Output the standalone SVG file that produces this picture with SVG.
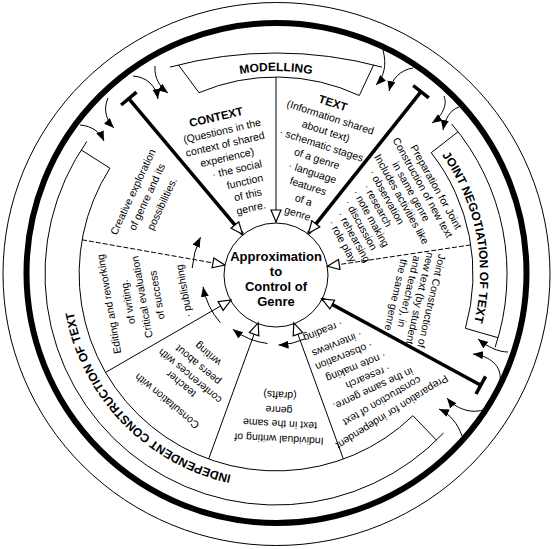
<svg xmlns="http://www.w3.org/2000/svg" width="553" height="549" viewBox="0 0 553 549">
<style>
.ln{fill:none;stroke:#000;stroke-width:1}
.th{fill:none;stroke:#000;stroke-width:3.5}
.ds{stroke-dasharray:5 2}
.t{font-family:"Liberation Sans",Arial,sans-serif;font-size:10.5px;fill:#000;text-anchor:middle}
.b{font-weight:bold;font-size:11.5px}
.lab{font-family:"Liberation Sans",Arial,sans-serif;font-weight:bold;font-size:12px;fill:#000;text-anchor:middle}
.ctr{font-family:"Liberation Sans",Arial,sans-serif;font-weight:bold;font-size:13px;fill:#000;text-anchor:middle}
</style>
<defs>
<marker id="open" markerUnits="userSpaceOnUse" markerWidth="15" markerHeight="13" refX="12" refY="5" orient="auto" viewBox="-1.5 -1.5 15 13"><path d="M0,0 L12,5 L0,10 Z" fill="#fff" stroke="#000" stroke-width="1.2"/></marker>
<marker id="solid" markerUnits="userSpaceOnUse" markerWidth="11" markerHeight="9" refX="10" refY="4" orient="auto" viewBox="0 0 11 9"><path d="M0,0 L10,4 L0,8 Z" fill="#000"/></marker>
<path id="pm" d="M190.2,90 A203,203 0 0,1 361.8,90"/>
<path id="pj" d="M436.8,148.4 A204,204 0 0,1 472.1,330.2"/>
<path id="pi" d="M247.3,478 A206,206 0 0,1 71.1,295.5"/>
</defs>
<rect width="553" height="549" fill="#fff"/>
<g id="rings">
<ellipse cx="276.5" cy="274" rx="273.5" ry="271.5" class="ln" stroke-width="1.2"/>
<circle cx="276.5" cy="273" r="250" fill="none" stroke="#000" stroke-width="6"/>
</g>
<g id="modelling">
<path class="ln" d="M170,67.1 A406,406 0 0,1 382,67.1 M178.4,64.9 L199,92.7 M373.6,64.9 L359.3,95.5 M199,92.7 A197,197 0 0,1 359.3,95.5"/>
<text class="lab"><textPath href="#pm" startOffset="50%">MODELLING</textPath></text>
</g>
<g id="joint-negotiation">
<path class="ln" d="M451.7,124 A231,231 0 0,1 495.1,347.3 M458,131.8 L431.2,152.7 M498,337.7 L465.4,328.3 M431.2,152.7 A197,197 0 0,1 465.4,328.3"/>
<text class="lab"><textPath href="#pj" startOffset="50%">JOINT NEGOTIATION OF TEXT</textPath></text>
</g>
<g id="independent">
<path class="ln" d="M443.6,433 A231,231 0 0,1 86.8,141.5 M436.5,440.2 L412.9,415.7 M81.2,149.9 L109.9,168.2 M412.9,415.7 A197,197 0 0,1 109.9,168.2"/>
<text class="lab"><textPath href="#pi" startOffset="50%">INDEPENDENT CONSTRUCTION OF TEXT</textPath></text>
</g>
<g id="connectors">
<path class="ln" d="M276,77 L276,222" marker-end="url(#open)"/>
<path class="th" d="M128.8,98.6 L242.6,234.2" marker-end="url(#open)"/>
<path class="th" d="M136.5,92.2 L121.1,105"/>
<path class="th" d="M421,91.7 L308.4,233.3" marker-end="url(#open)"/>
<path class="th" d="M428.8,97.9 L413.2,85.5"/>
<path class="ln ds" d="M470.8,244.9 L327.4,266.3" marker-end="url(#open)"/>
<path class="th" d="M480.8,385.2 L321.7,298.8" marker-end="url(#open)"/>
<path class="th" d="M476,394 L485.6,376.4"/>
<path class="ln" d="M343.4,459.1 L293.8,322.9" marker-end="url(#open)"/>
<path class="ln" d="M208.6,459.1 L258.2,322.9" marker-end="url(#open)"/>
<path class="ln" d="M105.4,372.5 L231,300" marker-end="url(#open)"/>
<path class="ln ds" d="M82,239.8 L224.8,265" marker-end="url(#open)"/>
<g marker-end="url(#solid)">
<path class="ln" d="M155,66 C154,78 160,87 168,93"/>
<path class="ln" d="M133,76 C147,77 156,86 158,99"/>
<path class="ln" d="M108,98 C103,109 106,120 114,128"/>
<path class="ln" d="M80,125 C92,126 100,132 104,141"/>
<path class="ln" d="M383,50 C387,65 384,77 376,85"/>
<path class="ln" d="M413,68 C400,70 392,79 389,91"/>
<path class="ln" d="M444,96 C448,106 441,117 432,123"/>
<path class="ln" d="M459,107 C450,110 445,119 443,130"/>
<path class="ln" d="M508,352 C498,352 488,347 478,339"/>
<path class="ln" d="M500,381 C502,366 490,356 473,354"/>
<path class="ln" d="M483,410 C470,414 455,408 447,398"/>
<path class="ln" d="M462,436 C458,424 450,414 439,409"/>
<path class="ln" d="M304.9,338.9 A71,71 0 0,1 278.5,345"/>
<path class="ln" d="M267.5,343.5 A70,70 0 0,1 232.9,329.2"/>
<path class="ln" d="M220.2,322.5 A74,74 0 0,1 203.1,286.8"/>
<path class="ln" d="M192.2,268.1 A84,84 0 0,1 200.5,237.2"/>
</g>
</g>
<g id="center">
<circle cx="276" cy="275" r="52" class="ln"/>
<text class="ctr" x="276" y="261">Approximation</text>
<text class="ctr" x="276" y="276">to</text>
<text class="ctr" x="276" y="291">Control of</text>
<text class="ctr" x="276" y="306">Genre</text>
</g>
<g id="context" transform="translate(216,117) rotate(-13)">
<text class="t b" x="0" y="4">CONTEXT</text>
<text class="t" x="2.7" y="18.5">(Questions in the</text>
<text class="t" x="2.7" y="32">context of shared</text>
<text class="t" x="1.7" y="45.5">experience)</text>
<text class="t" x="8.8" y="59">· the social</text>
<text class="t" x="13.6" y="73">function</text>
<text class="t" x="13.6" y="86.5">of this</text>
<text class="t" x="13.6" y="100">genre.</text>
</g>
<g id="text" transform="translate(333,103) rotate(18)">
<text class="t b" x="0" y="4">TEXT</text>
<text class="t" x="2" y="18">(Information shared</text>
<text class="t" x="2" y="32.5">about text)</text>
<text class="t" x="2" y="47">· schematic stages</text>
<text class="t" x="2" y="61.5">of a genre</text>
<text class="t" x="2" y="76">· language</text>
<text class="t" x="2" y="90.5">features</text>
<text class="t" x="2" y="105">of a</text>
<text class="t" x="2" y="119.5">genre.</text>
</g>
<g id="prep-joint" transform="translate(436,187) rotate(61)">
<text class="t" x="0" y="3.5">Preparation for Joint</text>
<text class="t" x="-6" y="15.5">Construction of new text</text>
<text class="t" x="-8" y="27.5">in same genre</text>
<text class="t" x="-6" y="39.5">Includes activities like</text>
<text class="t" x="-15" y="51.5">· observation</text>
<text class="t" x="-12" y="63.5">· research</text>
<text class="t" x="-4" y="75.5">· note making</text>
<text class="t" x="-3" y="87.5">· discussion</text>
<text class="t" x="4" y="99.5">· rehearsing</text>
<text class="t" x="2" y="111.5">· role play</text>
</g>
<g id="joint-construction" transform="translate(431.5,301) rotate(103)">
<text class="t" x="0" y="3.5">Joint Construction of</text>
<text class="t" x="0" y="15.5">new text (by student</text>
<text class="t" x="-4" y="27.5">and teacher), in</text>
<text class="t" x="2" y="39.5">the same genre</text>
</g>
<g id="prep-independent">
<text class="t" transform="translate(392,412) rotate(148)" y="3.5">Preparation for independent</text>
<text class="t" transform="translate(382,401) rotate(150)" y="3.5">construction of text</text>
<text class="t" transform="translate(373,389) rotate(155)" y="3.5">in the same genre.</text>
<text class="t" transform="translate(368,377) rotate(158)" y="3.5">· research</text>
<text class="t" transform="translate(356,367) rotate(158)" y="3.5">· note making</text>
<text class="t" transform="translate(344,356) rotate(158)" y="3.5">· observation</text>
<text class="t" transform="translate(337,344) rotate(158)" y="3.5">· interviews</text>
<text class="t" transform="translate(323,331) rotate(158)" y="3.5">· reading</text>
</g>
<g id="individual">
<text class="t" transform="translate(279,439) rotate(183)" y="3.5">Individual writing of</text>
<text class="t" transform="translate(280,424) rotate(183)" y="3.5">text in the same</text>
<text class="t" transform="translate(279,410) rotate(183)" y="3.5">genre</text>
<text class="t" transform="translate(280,395) rotate(183)" y="3.5">(drafts)</text>
</g>
<g id="consultation">
<text class="t" transform="translate(167,401) rotate(220)" y="3.5">Consultation with</text>
<text class="t" transform="translate(181,384) rotate(220)" y="3.5">teacher</text>
<text class="t" transform="translate(190,376) rotate(220)" y="3.5">conferences with</text>
<text class="t" transform="translate(198,365) rotate(220)" y="3.5">peers about</text>
<text class="t" transform="translate(208,354) rotate(220)" y="3.5">writing</text>
</g>
<g id="editing">
<text class="t" transform="translate(109,304) rotate(-100)" y="3.5">Editing and reworking</text>
<text class="t" transform="translate(128,302) rotate(-100)" y="3.5">of writing.</text>
<text class="t" transform="translate(142,297) rotate(-100)" y="3.5">Critical evaluation</text>
<text class="t" transform="translate(157,295) rotate(-100)" y="3.5">of success</text>
<text class="t" transform="translate(184,291) rotate(-100)" y="3.5">· publishing</text>
</g>
<g id="creative">
<text class="t" transform="translate(133,192) rotate(-65)" y="3.5">Creative exploration</text>
<text class="t" transform="translate(147,197) rotate(-65)" y="3.5">of genre and its</text>
<text class="t" transform="translate(162,204) rotate(-65)" y="3.5">possibilities.</text>
</g>
</svg>
